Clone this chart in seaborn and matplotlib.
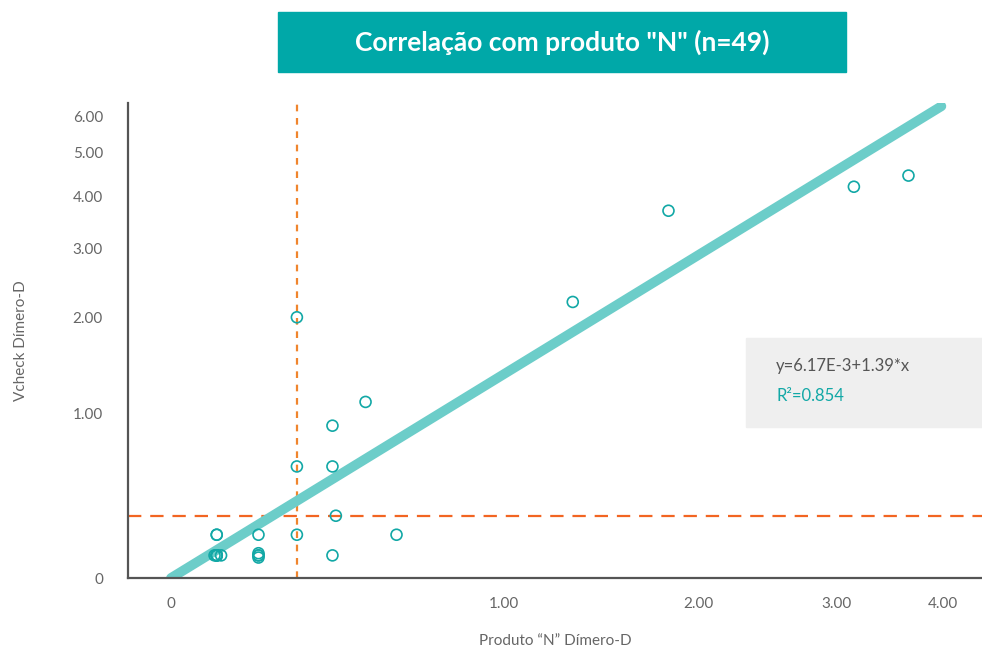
import numpy as np
import pandas as pd
import seaborn as sns
import matplotlib.pyplot as plt
from matplotlib.patches import Rectangle

sns.set_style("white")
plt.rcParams['font.family'] = ['Lato', 'DejaVu Sans']

# data (axes use a log(1+x) scale)
produto_n = [0.1, 0.1, 0.1, 0.1, 0.1, 0.095, 0.1, 0.11,
             0.2, 0.2, 0.2, 0.2, 0.2,
             0.3, 0.3, 0.3,
             0.4, 0.41, 0.4, 0.4, 0.5, 0.6,
             1.31, 1.82, 3.15, 3.65]
vcheck = [0.2, 0.2, 0.1, 0.1, 0.1, 0.1, 0.1, 0.1,
          0.2, 0.1, 0.1, 0.11, 0.09,
          0.2, 0.6, 2.0,
          0.1, 0.3, 0.6, 0.9, 1.1, 0.2,
          2.2, 3.7, 4.2, 4.45]
fit_x = [0, 3.98]
fit_y = [0, 6.3]
cutoff_x = 0.3
cutoff_y = 0.3
ticks_x = [0, 1, 2, 3, 4]
ticks_y = [0, 1, 2, 3, 4, 5, 6]

teal = '#12a8a6'
df = pd.DataFrame({"produto": produto_n, "vcheck": vcheck})
fit = pd.DataFrame({"x": fit_x, "y": fit_y})

fig = plt.figure(figsize=(9.82, 6.51), dpi=100)
ax = fig.add_axes([128/982, 73/651, 854/982, 475/651])
ax.set_xscale('function', functions=(np.log1p, np.expm1))
ax.set_yscale('function', functions=(np.log1p, np.expm1))

sns.lineplot(data=fit, x="x", y="y", ax=ax, color='#6ccdc9', linewidth=7,
             solid_capstyle='round', zorder=2)
sns.scatterplot(data=df, x="produto", y="vcheck", ax=ax, marker='o', s=62,
                facecolors='none', edgecolor=teal, linewidth=1.2, zorder=4)

ax.axhline(cutoff_y, color='#f26522', linewidth=1.6, dashes=(6, 4), zorder=1)
ax.axvline(cutoff_x, color='#f0852d', linewidth=1.6, dashes=(3, 3), zorder=1)

ax.set_xlim(-0.0857, 4.42)
ax.set_ylim(0, 6.4)
ax.set_xticks(ticks_x)
ax.set_xticklabels(["0" if t == 0 else f"{t:.2f}" for t in ticks_x])
ax.set_yticks(ticks_y)
ax.set_yticklabels(["0" if t == 0 else f"{t:.2f}" for t in ticks_y])
ax.tick_params(axis='both', length=0, labelsize=11, labelcolor='#666666')
ax.tick_params(axis='x', pad=14)
ax.tick_params(axis='y', pad=18)

sns.despine(ax=ax)
for side in ['left', 'bottom']:
    ax.spines[side].set_color('#555555')
    ax.spines[side].set_linewidth(1.6)

ax.set_xlabel('Produto \u201cN\u201d Dímero-D', fontsize=11, color='#666666', labelpad=16)
ax.set_ylabel('Vcheck Dímero-D', fontsize=11, color='#666666', labelpad=32)

# title banner
fig.patches.append(Rectangle((278/982, 579/651), 568/982, 60/651,
                             transform=fig.transFigure, color='#00a8a8', zorder=0))
fig.text(562/982, 609/651, 'Correlação com produto "N" (n=49)', ha='center', va='center',
         color='white', fontsize=19, fontweight='bold')

# equation box
fig.patches.append(Rectangle((746/982, 224/651), 236/982, 89/651,
                             transform=fig.transFigure, color='#efefef', zorder=0))
fig.text(776/982, 285/651, 'y=6.17E-3+1.39*x', ha='left', va='center',
         color='#555555', fontsize=12)
fig.text(776/982, 255/651, 'R²=0.854', ha='left', va='center', color=teal, fontsize=12)

fig.savefig("out.png", dpi=100)
